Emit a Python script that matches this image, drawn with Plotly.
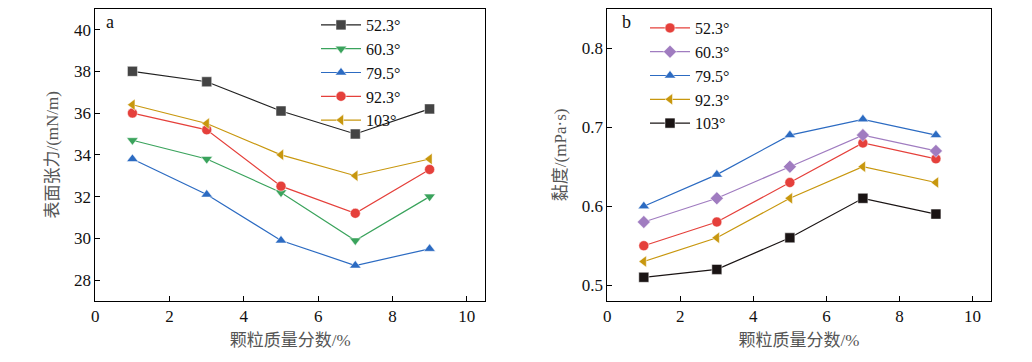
import plotly.graph_objects as go

x = [1, 3, 5, 7, 9]
angles = ["52.3°", "60.3°", "79.5°", "92.3°", "103°"]

tension = {
    "52.3°": [38.0, 37.5, 36.1, 35.0, 36.2],
    "60.3°": [34.7, 33.8, 32.2, 29.9, 32.0],
    "79.5°": [33.8, 32.1, 29.9, 28.7, 29.5],
    "92.3°": [36.0, 35.2, 32.5, 31.2, 33.3],
    "103°": [36.4, 35.5, 34.0, 33.0, 33.8],
}
viscosity = {
    "52.3°": [0.55, 0.58, 0.63, 0.68, 0.66],
    "60.3°": [0.58, 0.61, 0.65, 0.69, 0.67],
    "79.5°": [0.60, 0.64, 0.69, 0.71, 0.69],
    "92.3°": [0.53, 0.56, 0.61, 0.65, 0.63],
    "103°": [0.51, 0.52, 0.56, 0.61, 0.59],
}

style_a = {
    "52.3°": ("#222222", "#444444", "square"),
    "60.3°": ("#3aa35c", "#3aa35c", "triangle-down"),
    "79.5°": ("#2c6bc2", "#2c6bc2", "triangle-up"),
    "92.3°": ("#e5403b", "#e5403b", "circle"),
    "103°": ("#c8970e", "#c8970e", "triangle-left"),
}
style_b = {
    "52.3°": ("#e5403b", "#e5403b", "circle"),
    "60.3°": ("#a07cc0", "#a07cc0", "diamond"),
    "79.5°": ("#2c6bc2", "#2c6bc2", "triangle-up"),
    "92.3°": ("#c8970e", "#c8970e", "triangle-left"),
    "103°": ("#1a1414", "#1a1414", "square"),
}

SERIF = "Times New Roman, Liberation Serif, serif"
TITLE_FAMILY = "Times New Roman, Liberation Serif, Noto Sans CJK SC, serif"

W, H = 1032, 362


def px_x(p):
    return p / W


def px_y(p):
    return 1 - p / H


fig = go.Figure()
for a in angles:
    lc, mc, sym = style_a[a]
    fig.add_trace(go.Scatter(
        x=x, y=tension[a], name=a, mode="lines+markers",
        line=dict(color=lc, width=1.2),
        marker=dict(symbol=sym, size=10, color=mc, line=dict(color="white", width=0.5)),
        xaxis="x", yaxis="y", legend="legend"))
for a in angles:
    lc, mc, sym = style_b[a]
    fig.add_trace(go.Scatter(
        x=x, y=viscosity[a], name=a, mode="lines+markers",
        line=dict(color=lc, width=1.2),
        marker=dict(symbol=sym, size=10, color=mc, line=dict(color="white", width=0.5)),
        xaxis="x2", yaxis="y2", legend="legend2"))

ax_common = dict(
    showline=True, linecolor="black", linewidth=1, mirror=True, automargin=False,
    ticks="inside", ticklen=5, tickcolor="black", showgrid=False, zeroline=False,
    tickfont=dict(family=SERIF, size=17, color="#111111"),
)
title_font = dict(family=TITLE_FAMILY, size=17, color="#555555")
leg_font = dict(family=SERIF, size=16, color="#111111")

fig.update_layout(
    width=W, height=H,
    margin=dict(l=0, r=0, t=0, b=0),
    paper_bgcolor="white", plot_bgcolor="white",
    showlegend=True,
    xaxis=dict(domain=[px_x(95.3), px_x(485.3)], range=[0, 10.5], dtick=2, anchor="y",
               title=dict(text="颗粒质量分数/%", font=title_font, standoff=8), **ax_common),
    yaxis=dict(domain=[px_y(301), px_y(8.7)], range=[27, 41], dtick=2, anchor="x",
               title=dict(text="表面张力/(mN/m)", font=title_font, standoff=10), **ax_common),
    xaxis2=dict(domain=[px_x(607.3), px_x(990.7)], range=[0, 10.5], dtick=2, anchor="y2",
                title=dict(text="颗粒质量分数/%", font=title_font, standoff=8), **ax_common),
    yaxis2=dict(domain=[px_y(301), px_y(8.7)], range=[0.48, 0.85], dtick=0.1, anchor="x2",
                tickformat=".1f",
                title=dict(text="黏度/(mPa·s)", font=title_font, standoff=10), **ax_common),
    legend=dict(x=px_x(316), y=px_y(8), xanchor="left", yanchor="top",
                bgcolor="rgba(0,0,0,0)", font=leg_font,
                tracegroupgap=0, itemwidth=40),
    legend2=dict(x=px_x(645), y=px_y(11), xanchor="left", yanchor="top",
                 bgcolor="rgba(0,0,0,0)", font=leg_font,
                 tracegroupgap=0, itemwidth=40),
    annotations=[
        dict(text="a", x=px_x(104), y=px_y(10), xref="paper", yref="paper", showarrow=False,
             xanchor="left", yanchor="top", font=dict(family=SERIF, size=18, color="#111111")),
        dict(text="b", x=px_x(620), y=px_y(10), xref="paper", yref="paper", showarrow=False,
             xanchor="left", yanchor="top", font=dict(family=SERIF, size=18, color="#111111")),
    ],
)

fig.write_html("out.html", config={"displayModeBar": False},
               post_script="document.body.style.margin='0';")
